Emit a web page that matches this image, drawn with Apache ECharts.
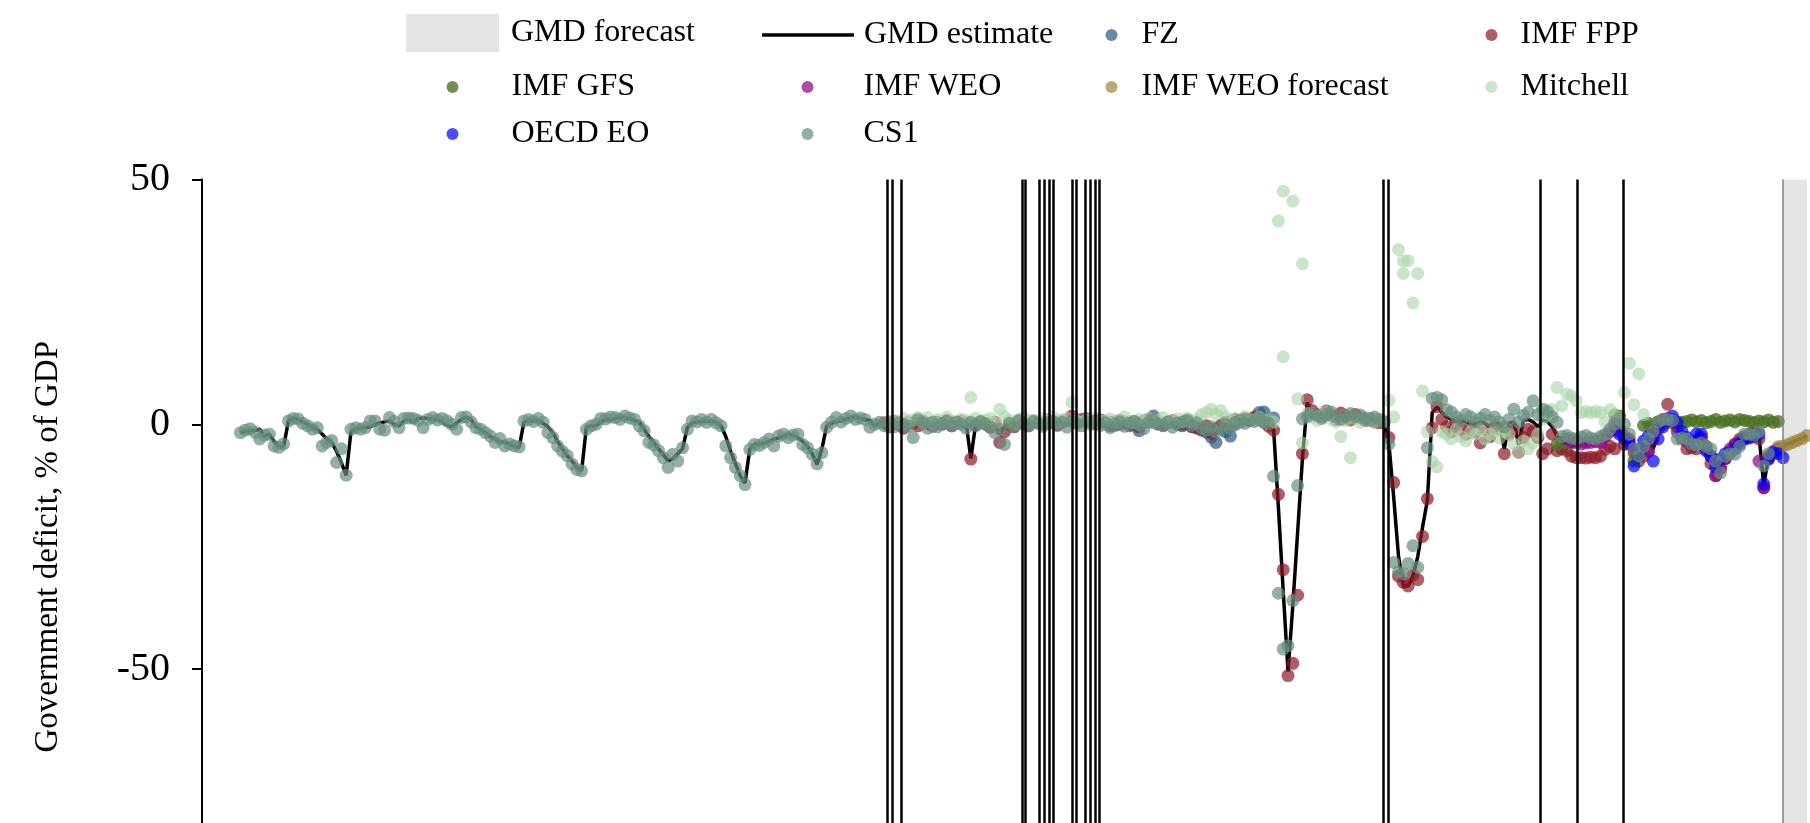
<!DOCTYPE html>
<html>
<head>
<meta charset="utf-8">
<title>Government deficit, % of GDP</title>
<script src="https://cdn.jsdelivr.net/npm/echarts@6/dist/echarts.min.js"></script>
<style>
  html, body { margin: 0; padding: 0; background: #fff; overflow: hidden; }
  /* the original picture is cut off below -80, so the chart is taller than the frame */
  #frame { width: 1810px; height: 823px; overflow: hidden; }
  #chart { width: 1810px; height: 914px; }
</style>
</head>
<body>
<div id="frame"><div id="chart"></div></div>
<script>
// x axis is years
const yearMin = 1696;
const yearMax = 2030;
const forecastFrom = 2025;
const yTicks = [50, 0, -50];

// years with a vertical marker line
const breakYears = [1838.7, 1839.7, 1841.6, 1866.6, 1867.3, 1870.3, 1871.3, 1872.3, 1873.1,
  1877.0, 1877.9, 1879.9, 1880.8, 1881.8, 1882.7, 1941.9, 1942.9, 1974.5, 1982.2, 1991.7];

// GMD estimate, one value per year from gmdStart
const gmdStart = 1704;
const gmdEstimate = [
  -1.7, -1.5, -1.2, -1.3, -1.0, -2.5, -2.0, -3.5, -4.7, -4.5,
  0.8, 1.2, 1.0, 0.5, 0.0, -0.7, -1.0, -2.0, -3.0, -3.7,
  -5.5, -7.8, -10.4, -1.5, -1.0, -0.7, -0.7, -0.5, 0.0, 0.3,
  0.5, 0.7, 0.0, -0.3, 0.7, 1.0, 0.5, 1.2, 1.3, 1.2,
  1.0, 1.0, 0.5, -0.2, -0.5, 0.3, 1.0, 1.4, 1.0, -0.5,
  -1.0, -1.7, -2.5, -3.0, -3.5, -3.7, -4.0, -4.5, -4.7, 0.5,
  0.7, 0.8, 0.7, 0.2, -0.5, -1.7, -3.5, -5.0, -6.4, -7.5,
  -8.8, -9.5, -0.5, -0.3, -0.3, 0.5, 1.0, 0.9, 1.2, 1.4,
  1.3, 1.1, 0.8, 0.4, -1.0, -2.5, -3.7, -5.0, -6.2, -7.5,
  -7.0, -6.0, -5.0, -0.7, 0.3, 0.5, 0.6, 0.7, 0.6, 0.4,
  -0.3, -2.5, -5.5, -8.0, -10.5, -12.0, -5.0, -4.1, -4.0, -3.8,
  -3.5, -3.0, -2.8, -2.4, -2.0, -2.2, -2.7, -3.5, -4.5, -6.0,
  -8.2, -5.0, -0.3, 0.2, 0.6, 0.7, 1.0, 1.3, 1.5, 1.2,
  1.0, 0.8, -0.3, 0.3, 0.0, 0.2, 0.0, 0.3, 0.1, -0.2,
  0.0, 0.2, 0.1, 0.3, 0.0, 0.2, 0.4, 0.1, 0.0, 0.2,
  0.3, 0.3, -7.0, 0.0, 0.2, 0.4, 0.0, -0.5, -2.0, -0.5,
  0.3, 0.2, 0.4, 0.1, 0.0, 0.3, 0.2, 0.1, 0.3, 0.4,
  0.2, 0.5, 0.6, 0.3, 0.2, 0.0, 0.3, 0.4, 0.1, 0.0,
  0.2, 0.1, -0.2, 0.0, 0.3, 0.4, 0.2, -0.3, 0.1, 0.5,
  0.3, 0.2, 0.0, -0.2, 0.1, 0.3, 0.4, 0.2, 0.0, -0.4,
  -0.6, -0.3, -0.8, -0.5, -0.2, 0.0, 0.3, 0.5, 0.4, 0.6,
  0.8, 1.0, 0.8, 0.4, -0.5, -1.0, -17.0, -34.0, -50.5, -37.0,
  -22.0, -7.0, 4.5, 2.0, 1.5, 1.2, 2.0, 1.5, 1.0, 0.8,
  1.2, 1.0, 1.4, 1.0, 0.5, 0.8, 0.6, 0.2, 0.0, -4.0,
  -15.0, -27.0, -33.0, -33.0, -31.0, -27.0, -21.0, -15.5, 2.4, 3.5,
  2.5, 1.5, 1.0, 0.5, 0.8, 0.5, 0.3, 0.0, 0.5, 0.2,
  -0.5, 0.0, 0.2, -5.0, 0.3, 0.5, -4.2, 0.8, 1.0, 0.5,
  -0.5, 1.0, 0.5, -0.5, -2.5, -3.0, -2.5, -3.0, -2.8, -3.0,
  -3.2, -3.0, -2.8, -2.5, -2.2, -1.5, -0.5, -1.5, -2.5, -3.5,
  -7.0, -6.0, -4.0, -3.0, -5.0, -2.0, 0.0, 1.0, 1.5, 0.0,
  -1.5, -3.0, -3.5, -2.5, -2.5, -4.5, -7.0, -9.0, -7.5, -6.0,
  -5.5, -4.5, -3.5, -3.0, -2.5, -2.0, -2.0, -12.5, -6.5, -5.8,
  -6.0, -4.4, -4.0, -3.6, -3.2, -2.8, -2.4
];

// CS1
const cs1Start = 1704;
const cs1 = [
  -1.7, -1.2, -0.9, -1.6, -3.0, -2.2, -2.0, -4.4, -4.7, -4.0,
  0.7, 1.2, 1.1, 0.2, -0.3, -1.0, -0.7, -4.4, -3.7, -3.3,
  -7.8, -5.0, -10.4, -1.0, -0.7, -1.0, -0.7, 0.7, 0.7, -1.0,
  -1.2, 1.4, 0.6, -0.7, 1.2, 1.3, 1.2, 0.8, -0.7, 1.0,
  1.4, 0.9, 1.2, 0.7, 0.0, -1.0, 1.4, 1.5, 0.5, -0.7,
  -1.0, -1.7, -2.4, -3.7, -2.9, -4.4, -4.0, -4.4, -4.6, 0.7,
  1.0, 0.6, 1.2, 0.4, -1.7, -2.7, -4.4, -5.5, -6.4, -8.1,
  -9.2, -9.5, -1.0, -0.3, 0.0, 1.2, 1.1, 1.5, 1.4, 1.0,
  1.7, 1.3, 1.0, -0.3, -1.3, -3.7, -4.2, -5.4, -6.8, -8.8,
  -6.1, -7.5, -4.8, -1.0, 0.7, 0.5, 1.0, 0.4, 1.0, 0.3,
  -0.3, -4.4, -6.8, -8.8, -10.5, -12.3, -5.1, -4.1, -4.3, -3.7,
  -3.0, -4.4, -2.4, -2.0, -2.7, -2.2, -2.0, -4.1, -4.8, -6.1,
  -8.1, -5.8, -0.6, 0.4, 1.4, 0.5, 1.2, 1.7, 1.0, 1.3,
  1.0, -0.6, 0.0, 0.4, -0.3, 0.5, -0.5, 0.3, 0.0, -0.4,
  -2.7, 1.0, 0.3, -0.8, 0.4, -0.5, 0.2, 0.6, -0.3, 0.5,
  0.0, -0.8, 0.4, -0.2, 0.6, 0.1, -0.6, -1.7, -1.0, -4.1,
  0.2, -0.5, 0.8, 0.0, -0.3, 0.5, 0.2, -0.4, 0.3, 0.6,
  0.0, 0.4, -0.6, 0.7, 0.2, -0.3, 0.5, 0.0, 0.8, -0.2,
  0.3, -0.7, 0.1, 0.5, -0.4, 0.2, 0.6, -0.1, -0.9, 0.4,
  0.8, 0.0, -0.3, 0.5, -0.6, 0.2, 0.4, 0.9, -0.2, 0.3,
  -0.8, -1.2, -0.5, -1.5, -0.7, 0.0, -0.9, 0.4, 0.8, 0.2,
  1.0, 0.6, 1.4, 0.5, 0.2, -10.6, -34.5, -45.9, -45.2, -36.0,
  -12.5, 1.1, 1.6, 2.3, 1.8, 1.2, 2.0, 2.5, 1.5, 1.0,
  1.8, 2.2, 1.5, 1.9, 1.2, 0.8, 1.5, 1.0, 0.5, -4.0,
  -28.2, -30.1, -30.5, -28.4, -24.8, -29.2, null, -4.8, 5.3, 5.5,
  5.0, 3.0, 2.5, 1.5, 0.8, 2.0, 1.5, 0.5, 1.2, 2.0,
  0.8, 1.5, 0.5, -0.5, 1.0, 3.1, 0.5, 1.8, 2.5, 4.8,
  2.0, 3.1, 2.5, 1.5, 0.4, -2.5, -2.3, -2.8, -3.0, -2.6,
  -2.3, -2.8, -3.0, -2.5, -2.0, -1.0, 0.0, 1.1, 0.0, -2.0,
  -5.0, -6.4, -4.5, -3.0, -1.5, 0.5, 1.0, 1.0, 0.8, -3.0,
  -2.8, -3.0, -4.0, -4.2, -3.8, -4.5, -5.0, -7.5, -9.9, -6.5,
  -6.0, -6.1, -4.5, -2.0, -2.0, -2.2, -1.5, -8.5, -6.0
];

// IMF FPP
const fppStart = 1838;
const imfFpp = [
  0.3, -0.5, 0.6, 0.0, -0.8, 0.4, 0.2, -0.3, 0.7, 0.1,
  -0.4, 0.5, 0.0, 0.8, -0.3, 0.2, 0.6, 0.3, -7.1, -0.2,
  0.5, 0.1, -0.6, 0.4, -3.7, -1.5, 0.0, -0.5, 0.6, 0.2,
  -0.3, 0.7, 0.4, 0.0, 0.9, 0.3, -0.2, 0.6, 0.8, 1.7,
  0.5, 1.0, 1.2, 0.6, 0.2, 0.9, 0.4, -0.3, 0.5, 0.8,
  0.3, 0.0, 0.6, -0.5, 0.7, 1.0, 0.4, 0.1, -0.2, 0.5,
  0.8, 0.3, 0.0, 0.6, -0.4, -0.6, -1.0, -0.3, -1.8, -0.9,
  -0.2, 0.4, 0.6, 1.0, 0.5, 1.2, 0.8, 1.5, 1.0, 0.4,
  -0.4, -1.2, -14.3, -29.7, -51.3, -48.8, -34.9, -6.0, 5.0, 2.8,
  2.0, 1.5, 2.7, 1.8, 1.0, 2.3, 1.5, 0.9, 2.0, 1.4,
  0.8, 1.2, 0.5, 0.3, 0.5, -2.7, -11.9, -31.0, -32.3, -33.0,
  -30.8, -31.7, -22.9, -15.2, -0.7, 3.6, 1.0, -0.5, -1.5, 0.2,
  -1.0, -2.0, -0.5, -1.5, -3.8, -1.0, -2.5, -0.5, -1.0, -6.0,
  -2.0, -1.0, -5.7, -2.7, -1.0, -1.5, -2.7, -6.0, -5.0, -2.0,
  -5.4, -5.0, -5.4, -6.5, -6.8, -6.8, -6.9, -6.7, -6.8, -6.5,
  -5.1, -4.5, -5.0, -1.5, -4.1, -3.0, -5.8, -7.5, -6.5, -5.5,
  -2.0, 0.5, 1.0, 4.1, 1.0, -0.5, -3.0, -5.0, -4.8, -5.0,
  -3.0, -5.0, -8.0, -10.5, -9.0, -7.0, -5.5, -4.0, -3.0, -2.5,
  -2.0, -1.5, -3.0, -13.0, -6.5
];

// Mitchell
const mitchellStart = 1840;
const mitchell = [
  0.8, 0.3, 1.2, 0.5, 0.9, 1.4, 0.6, 1.4, 0.2, 1.0,
  0.5, 1.5, 0.7, 0.3, 1.1, 0.8, 5.5, 1.3, 0.4, 0.9,
  1.2, 0.5, 3.1, 1.6, 0.8, 0.2, 1.0, 1.4, 0.6, 0.9,
  0.3, 1.2, 0.8, 1.5, 0.5, 1.0, 1.2, 4.5, 0.7, 0.4,
  1.0, 0.6, 1.3, 0.2, 0.8, 1.1, 0.4, 0.9, 1.5, 0.6,
  0.3, 1.0, 0.7, 1.2, 0.5, 0.9, 1.4, 0.2, 0.8, 1.1,
  0.6, 1.3, 0.4, 1.0, 2.0, 2.4, 3.1, 2.1, 2.8, 1.5,
  0.9, 1.2, 0.5, 1.6, 1.0, 0.8, 1.5, 0.6, 1.0, 0.5,
  41.5, 47.6, null, 45.6, 5.2, 32.8, 2.2, 1.5, 0.8, 1.8,
  2.5, 1.0, 0.5, -2.5, 0.8, -6.8, 1.2, 0.4, 1.5, 0.9,
  0.5, 1.0, 0.8, 4.9, 1.5, 35.7, 33.4, 33.4, 24.8, 30.8,
  6.8, -1.5, -7.6, -8.7, -1.5, -2.0, -3.0, -1.0, -2.5, -3.4,
  -1.5, -2.0, -1.0, -3.0, -2.0, -1.2, -2.8, -1.5, -2.0, -4.0,
  -5.7, -3.4, -5.0, -3.8, -2.0, 1.0, 3.0, 3.0, 7.5, 3.8,
  6.2, 5.8, 4.8, 2.4, 2.6, 2.4, 2.6, 2.4, 0.5, 3.0,
  2.0, 1.0, 6.5, 12.5, 4.0, 10.3, 2.0
];
// second Mitchell readings in the same year
const mitchellExtra = [[1921, 13.8], [1925, -3.8], [1946, 30.8]];

// FZ
const fzStart = 1885;
const fz = [
  0.3, -0.2, 0.0, 0.5, -0.3, 0.2, -1.3, 0.4, 0.6, 1.7,
  0.2, -0.1, 0.3, 0.5, 0.0, -0.3, 0.2, -0.5, -0.8, -1.2,
  -1.6, -2.6, -3.7, -0.8, -1.5, -2.4, 0.0, 0.6, 1.0, 0.8,
  1.2, 2.4, 2.5, 1.0, 1.3
];

// IMF GFS
const gfsStart = 1978;
const imfGfs = [
  -4.1, -3.8, -3.5, -3.8, null, null, null, null, null, null,
  null, null, 1.9, 1.7, null, null, -7.5, null, -0.2, 0.2,
  -0.3, 0.5, 0.0, 0.8, 0.3, -0.2, 0.4, 0.6, 0.9, 0.5,
  0.8, 0.3, 0.6, 1.0, 0.4, 0.7, 0.9, 0.5, 1.0, 0.8,
  0.6, 0.3, 0.7, 0.5, 0.9, 0.4, 0.6
];

// IMF WEO
const weoStart = 1980;
const imfWeo = [
  -3.0, -3.5, -3.7, -4.0, -3.8, -3.7, -3.5, -3.7, -2.5, -1.5,
  0.5, -1.0, -2.4, -3.5, -5.0, -6.0, -4.5, -5.5, -3.0, -1.0,
  0.5, 1.2, 0.8, -1.5, -2.7, -3.5, -4.0, -3.2, -2.7, -4.5,
  -6.5, -10.5, -9.0, -7.0, -5.0, -4.2, -3.5, -3.0, -2.5, -2.0,
  -7.5, -12.9, -7.1, -5.5, -5.0
];

// IMF WEO forecast
const weoFcStart = 2024;
const imfWeoForecast = [-4.6, -4.4, -4.1, -3.7, -3.3, -2.9, -2.3];

// OECD EO
const oecdStart = 1991;
const oecdEo = [
  -2.0, -3.0, -4.0, -8.5, -6.0, -3.4, -2.4, -7.5, -3.0, -0.5,
  0.8, 1.7, 0.4, -1.5, -2.7, -3.5, -2.0, -2.0, -5.4, -6.5,
  -8.8, -7.1, -6.0, -5.8, -5.0, -4.0, -3.0, -2.8, -2.4, -2.0,
  -12.2, -7.0, -5.8, -6.0, -6.8
];

// turn a start year + yearly values into [year, value] points
function annual(start, values) {
  let out = [];
  for (let i = 0; i < values.length; i++) {
    if (values[i] !== null) out.push([start + i, values[i]]);
  }
  return out;
}

const font = 'Liberation Serif';

function dots(name, data, color, opacity) {
  return {
    name: name,
    type: 'scatter',
    data: data,
    symbol: 'circle',
    symbolSize: 13,
    itemStyle: { color: color, opacity: opacity },
    z: 3,
    silent: true
  };
}

// one legend per entry so each can sit where the original puts it
function legendEntry(name, left, top, w, h, gap, icon) {
  return {
    data: [{ name: name, icon: icon }],
    left: left,
    top: top,
    padding: 0,
    itemWidth: w,
    itemHeight: h,
    selectedMode: false,
    textStyle: { fontFamily: font, fontSize: 32, color: '#000', lineHeight: 36, padding: [0, 0, 0, gap] }
  };
}

const chart = echarts.init(document.getElementById('chart'));

const option = {
  animation: false,
  backgroundColor: '#fff',
  legend: [
    legendEntry('GMD forecast', 406, 14, 93, 38, 7, 'rect'),
    legendEntry('GMD estimate', 762, 17, 92, 3.5, 5, 'rect'),
    legendEntry('FZ', 1105.5, 17, 12, 12, 19, 'circle'),
    legendEntry('IMF FPP', 1485.5, 17, 12, 12, 18, 'circle'),
    legendEntry('IMF GFS', 446.5, 69, 12, 12, 48, 'circle'),
    legendEntry('IMF WEO', 801.5, 69, 12, 12, 45, 'circle'),
    legendEntry('IMF WEO forecast', 1105.5, 69, 12, 12, 19, 'circle'),
    legendEntry('Mitchell', 1485.5, 69, 12, 12, 18, 'circle'),
    legendEntry('OECD EO', 446.5, 116, 12, 12, 48, 'circle'),
    legendEntry('CS1', 801.5, 116, 12, 12, 45, 'circle')
  ],
  grid: { left: 202, right: 3, top: 179.5, bottom: 0 },
  xAxis: {
    type: 'value',
    min: yearMin,
    max: yearMax,
    show: false
  },
  yAxis: {
    type: 'value',
    min: -100,
    max: 50,
    interval: 50,
    name: 'Government deficit, % of GDP',
    nameLocation: 'middle',
    nameGap: 137,
    nameTextStyle: { fontFamily: font, fontSize: 33, color: '#000' },
    axisLine: { show: true, lineStyle: { color: '#000', width: 2 } },
    axisTick: { show: true, length: 10, customValues: yTicks, lineStyle: { color: '#000', width: 2 } },
    axisLabel: { fontFamily: font, fontSize: 40, color: '#000', margin: 32, customValues: yTicks },
    splitLine: { show: false }
  },
  series: [
    {
      name: 'GMD forecast',
      type: 'line',
      data: [],
      itemStyle: { color: '#e5e5e5' },
      silent: true,
      z: 0,
      markArea: {
        silent: true,
        itemStyle: { color: '#e5e5e5' },
        data: [[{ xAxis: forecastFrom }, { xAxis: yearMax }]]
      },
      markLine: {
        silent: true,
        symbol: ['none', 'none'],
        label: { show: false },
        lineStyle: { color: '#808080', width: 1.5, type: 'solid' },
        data: [{ xAxis: forecastFrom }]
      }
    },
    {
      name: 'breaks',
      type: 'line',
      data: [],
      silent: true,
      z: 1,
      markLine: {
        silent: true,
        symbol: ['none', 'none'],
        label: { show: false },
        lineStyle: { color: '#000', width: 2.5, type: 'solid' },
        data: breakYears.map(function (y) { return { xAxis: y }; })
      }
    },
    {
      name: 'GMD estimate',
      type: 'line',
      data: annual(gmdStart, gmdEstimate),
      symbol: 'none',
      showSymbol: false,
      itemStyle: { color: '#000' },
      lineStyle: { color: '#000', width: 3.5 },
      z: 2,
      silent: true
    },
    dots('FZ', annual(fzStart, fz), '#2a5585', 0.7),
    dots('IMF FPP', annual(fppStart, imfFpp), '#8b1a26', 0.7),
    dots('IMF GFS', annual(gfsStart, imfGfs), '#4d7325', 0.8),
    dots('IMF WEO', annual(weoStart, imfWeo), '#8b008b', 0.7),
    dots('IMF WEO forecast', annual(weoFcStart, imfWeoForecast), '#9c8436', 0.7),
    dots('Mitchell', annual(mitchellStart, mitchell).concat(mitchellExtra), '#a8d4a8', 0.6),
    dots('OECD EO', annual(oecdStart, oecdEo), '#0000ff', 0.7),
    dots('CS1', annual(cs1Start, cs1), '#668f7e', 0.7)
  ]
};

chart.setOption(option);
</script>
</body>
</html>
